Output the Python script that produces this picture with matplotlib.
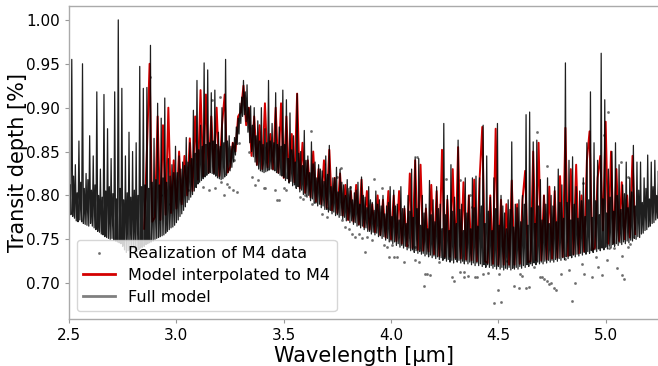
import numpy as np
import matplotlib
matplotlib.use("Agg")
import matplotlib.pyplot as plt

# Full high-resolution model, sampled every 1/240 um from 2.50 to 5.25 um
full_wl = np.linspace(2.50, 5.25, 661)
full_depth = [
    0.782, 0.812, 0.778, 0.955, 0.776, 0.822, 0.774, 0.835, 0.771, 0.803, 0.770, 0.862,  # 2.50
    0.772, 0.815, 0.770, 0.950, 0.768, 0.808, 0.767, 0.825, 0.766, 0.818, 0.765, 0.868,  # 2.55
    0.768, 0.806, 0.765, 0.845, 0.763, 0.812, 0.761, 0.918, 0.759, 0.800, 0.758, 0.830,  # 2.60
    0.756, 0.798, 0.755, 0.915, 0.753, 0.805, 0.752, 0.876, 0.751, 0.810, 0.750, 0.842,  # 2.65
    0.751, 0.802, 0.749, 0.918, 0.748, 0.796, 0.747, 1.000, 0.746, 0.808, 0.745, 0.922,  # 2.70
    0.742, 0.795, 0.738, 0.845, 0.735, 0.803, 0.737, 0.872, 0.738, 0.798, 0.739, 0.850,  # 2.75
    0.740, 0.806, 0.737, 0.860, 0.736, 0.800, 0.738, 0.947, 0.740, 0.810, 0.741, 0.922,  # 2.80
    0.742, 0.812, 0.744, 0.923, 0.745, 0.808, 0.746, 0.971, 0.747, 0.815, 0.748, 0.865,  # 2.85
    0.750, 0.818, 0.751, 0.905, 0.752, 0.812, 0.753, 0.888, 0.754, 0.820, 0.755, 0.911,  # 2.90
    0.757, 0.815, 0.759, 0.842, 0.761, 0.822, 0.763, 0.835, 0.764, 0.826, 0.766, 0.856,  # 2.95
    0.769, 0.826, 0.772, 0.845, 0.776, 0.830, 0.779, 0.838, 0.783, 0.834, 0.787, 0.866,  # 3.00
    0.792, 0.838, 0.795, 0.860, 0.798, 0.842, 0.801, 0.897, 0.805, 0.848, 0.809, 0.931,  # 3.05
    0.813, 0.852, 0.815, 0.880, 0.817, 0.856, 0.819, 0.951, 0.821, 0.858, 0.823, 0.943,  # 3.10
    0.825, 0.860, 0.826, 0.917, 0.825, 0.862, 0.824, 0.920, 0.822, 0.858, 0.820, 0.872,  # 3.15
    0.819, 0.856, 0.818, 0.900, 0.819, 0.860, 0.821, 0.955, 0.823, 0.862, 0.826, 0.868,  # 3.20
    0.828, 0.856, 0.832, 0.860, 0.838, 0.866, 0.846, 0.878, 0.858, 0.888, 0.870, 0.905,  # 3.25
    0.882, 0.912, 0.890, 0.931, 0.892, 0.918, 0.884, 0.926, 0.872, 0.900, 0.860, 0.902,  # 3.30
    0.850, 0.880, 0.844, 0.900, 0.838, 0.868, 0.834, 0.885, 0.830, 0.862, 0.828, 0.900,  # 3.35
    0.827, 0.858, 0.826, 0.876, 0.827, 0.860, 0.828, 0.931, 0.829, 0.862, 0.830, 0.882,  # 3.40
    0.829, 0.860, 0.828, 0.917, 0.826, 0.858, 0.825, 0.878, 0.823, 0.856, 0.822, 0.920,  # 3.45
    0.820, 0.858, 0.817, 0.909, 0.819, 0.842, 0.814, 0.894, 0.816, 0.852, 0.811, 0.868,  # 3.50
    0.812, 0.838, 0.808, 0.916, 0.810, 0.848, 0.804, 0.850, 0.806, 0.834, 0.801, 0.874,  # 3.55
    0.802, 0.840, 0.798, 0.845, 0.800, 0.826, 0.794, 0.861, 0.796, 0.836, 0.791, 0.838,  # 3.60
    0.792, 0.820, 0.788, 0.835, 0.790, 0.830, 0.786, 0.828, 0.788, 0.816, 0.784, 0.845,  # 3.65
    0.784, 0.824, 0.781, 0.857, 0.783, 0.810, 0.779, 0.820, 0.781, 0.820, 0.777, 0.832,  # 3.70
    0.778, 0.804, 0.775, 0.830, 0.777, 0.815, 0.773, 0.812, 0.775, 0.800, 0.771, 0.818,  # 3.75
    0.772, 0.808, 0.769, 0.810, 0.771, 0.795, 0.767, 0.803, 0.769, 0.806, 0.765, 0.815,  # 3.80
    0.766, 0.790, 0.763, 0.821, 0.765, 0.800, 0.761, 0.798, 0.763, 0.786, 0.759, 0.810,  # 3.85
    0.759, 0.795, 0.756, 0.792, 0.758, 0.783, 0.755, 0.805, 0.757, 0.790, 0.753, 0.795,  # 3.90
    0.754, 0.788, 0.751, 0.800, 0.753, 0.779, 0.749, 0.788, 0.751, 0.792, 0.747, 0.810,  # 3.95
    0.748, 0.776, 0.745, 0.806, 0.747, 0.788, 0.743, 0.790, 0.745, 0.772, 0.741, 0.810,  # 4.00
    0.743, 0.785, 0.740, 0.788, 0.742, 0.768, 0.738, 0.800, 0.740, 0.782, 0.737, 0.830,  # 4.05
    0.738, 0.775, 0.735, 0.844, 0.737, 0.785, 0.734, 0.842, 0.736, 0.766, 0.733, 0.800,  # 4.10
    0.734, 0.780, 0.731, 0.790, 0.733, 0.762, 0.730, 0.817, 0.732, 0.778, 0.729, 0.795,  # 4.15
    0.731, 0.770, 0.728, 0.810, 0.730, 0.785, 0.727, 0.790, 0.729, 0.762, 0.726, 0.882,  # 4.20
    0.728, 0.778, 0.725, 0.800, 0.727, 0.760, 0.724, 0.835, 0.726, 0.782, 0.723, 0.798,  # 4.25
    0.727, 0.768, 0.724, 0.863, 0.726, 0.784, 0.723, 0.790, 0.725, 0.760, 0.722, 0.820,  # 4.30
    0.725, 0.780, 0.722, 0.800, 0.724, 0.762, 0.721, 0.820, 0.723, 0.786, 0.720, 0.822,  # 4.35
    0.723, 0.765, 0.720, 0.820, 0.722, 0.788, 0.719, 0.880, 0.721, 0.768, 0.718, 0.845,  # 4.40
    0.721, 0.782, 0.718, 0.798, 0.720, 0.760, 0.717, 0.820, 0.719, 0.785, 0.716, 0.882,  # 4.45
    0.719, 0.766, 0.716, 0.800, 0.718, 0.788, 0.715, 0.780, 0.717, 0.762, 0.716, 0.795,  # 4.50
    0.718, 0.784, 0.715, 0.861, 0.717, 0.764, 0.716, 0.790, 0.718, 0.786, 0.716, 0.795,  # 4.55
    0.719, 0.770, 0.717, 0.800, 0.720, 0.790, 0.718, 0.892, 0.721, 0.766, 0.719, 0.895,  # 4.60
    0.722, 0.786, 0.720, 0.861, 0.723, 0.768, 0.721, 0.863, 0.724, 0.788, 0.722, 0.818,  # 4.65
    0.724, 0.772, 0.722, 0.800, 0.725, 0.790, 0.723, 0.820, 0.726, 0.768, 0.724, 0.800,  # 4.70
    0.726, 0.788, 0.724, 0.810, 0.727, 0.770, 0.725, 0.830, 0.728, 0.792, 0.726, 0.812,  # 4.75
    0.729, 0.774, 0.727, 0.951, 0.730, 0.792, 0.728, 0.840, 0.731, 0.772, 0.729, 0.844,  # 4.80
    0.732, 0.790, 0.730, 0.810, 0.733, 0.774, 0.731, 0.805, 0.734, 0.794, 0.732, 0.820,  # 4.85
    0.735, 0.776, 0.733, 0.860, 0.736, 0.795, 0.734, 0.918, 0.737, 0.775, 0.735, 0.860,  # 4.90
    0.738, 0.794, 0.736, 0.840, 0.739, 0.778, 0.737, 0.962, 0.740, 0.796, 0.738, 0.909,  # 4.95
    0.741, 0.780, 0.739, 0.830, 0.742, 0.798, 0.740, 0.850, 0.744, 0.782, 0.742, 0.860,  # 5.00
    0.745, 0.800, 0.743, 0.835, 0.746, 0.784, 0.744, 0.812, 0.747, 0.802, 0.745, 0.838,  # 5.05
    0.748, 0.786, 0.746, 0.820, 0.749, 0.804, 0.748, 0.857, 0.751, 0.788, 0.750, 0.838,  # 5.10
    0.753, 0.806, 0.752, 0.838, 0.756, 0.792, 0.757, 0.820, 0.760, 0.808, 0.761, 0.846,  # 5.15
    0.764, 0.796, 0.765, 0.838, 0.768, 0.810, 0.769, 0.840, 0.772, 0.800, 0.774, 0.828,  # 5.20
    0.778,
]

# Model binned to M4 resolution, every 0.0125 um
red_wl = np.linspace(2.85, 5.1375, 184)
red_depth = [
    0.762, 0.850, 0.950, 0.770,  # 2.85
    0.775, 0.890, 0.772, 0.880,  # 2.90
    0.778, 0.900, 0.780, 0.840,  # 2.95
    0.785, 0.850, 0.790, 0.845,  # 3.00
    0.800, 0.865, 0.805, 0.890,  # 3.05
    0.818, 0.920, 0.822, 0.915,  # 3.10
    0.826, 0.890, 0.826, 0.900,  # 3.15
    0.822, 0.880, 0.915, 0.826,  # 3.20
    0.832, 0.860, 0.850, 0.890,  # 3.25
    0.895, 0.925, 0.880, 0.900,  # 3.30
    0.845, 0.890, 0.835, 0.880,  # 3.35
    0.830, 0.905, 0.832, 0.870,  # 3.40
    0.830, 0.900, 0.826, 0.905,  # 3.45
    0.820, 0.890, 0.816, 0.870,  # 3.50
    0.815, 0.916, 0.808, 0.860,  # 3.55
    0.803, 0.840, 0.798, 0.850,  # 3.60
    0.793, 0.830, 0.790, 0.840,  # 3.65
    0.786, 0.852, 0.783, 0.820,  # 3.70
    0.780, 0.825, 0.777, 0.812,  # 3.75
    0.772, 0.805, 0.770, 0.812,  # 3.80
    0.767, 0.818, 0.764, 0.805,  # 3.85
    0.761, 0.790, 0.758, 0.800,  # 3.90
    0.755, 0.795, 0.752, 0.805,  # 3.95
    0.750, 0.800, 0.748, 0.805,  # 4.00
    0.745, 0.785, 0.742, 0.825,  # 4.05
    0.740, 0.840, 0.738, 0.835,  # 4.10
    0.737, 0.785, 0.736, 0.812,  # 4.15
    0.733, 0.805, 0.731, 0.852,  # 4.20
    0.730, 0.795, 0.730, 0.830,  # 4.25
    0.729, 0.855, 0.728, 0.815,  # 4.30
    0.727, 0.800, 0.726, 0.818,  # 4.35
    0.725, 0.818, 0.878, 0.725,  # 4.40
    0.723, 0.800, 0.722, 0.876,  # 4.45
    0.721, 0.795, 0.721, 0.790,  # 4.50
    0.721, 0.817, 0.721, 0.790,  # 4.55
    0.722, 0.795, 0.828, 0.724,  # 4.60
    0.725, 0.850, 0.726, 0.860,  # 4.65
    0.726, 0.800, 0.727, 0.810,  # 4.70
    0.728, 0.805, 0.729, 0.822,  # 4.75
    0.730, 0.877, 0.731, 0.830,  # 4.80
    0.733, 0.835, 0.734, 0.800,  # 4.85
    0.736, 0.840, 0.873, 0.738,  # 4.90
    0.740, 0.820, 0.845, 0.760,  # 4.95
    0.884, 0.745, 0.850, 0.746,  # 5.00
    0.830, 0.748, 0.815, 0.750,  # 5.05
    0.800, 0.752, 0.845, 0.756,  # 5.10
]

# Simulated M4 data points (the ones visible outside the model band)
dots_wl = [
    2.878, 2.930, 2.970, 3.056, 3.125, 3.150, 3.165, 3.180, 3.204, 3.210,
    3.220, 3.235, 3.243, 3.266, 3.270, 3.282, 3.290, 3.338, 3.352, 3.360,
    3.367, 3.380, 3.410, 3.414, 3.460, 3.468, 3.476, 3.500, 3.509, 3.578,
    3.592, 3.600, 3.625, 3.633, 3.645, 3.678, 3.690, 3.700, 3.703, 3.748,
    3.765, 3.773, 3.787, 3.804, 3.811, 3.818, 3.830, 3.850, 3.865, 3.880,
    3.888, 3.913, 3.920, 3.960, 3.967, 3.980, 3.990, 4.004, 4.012, 4.028,
    4.059, 4.074, 4.110, 4.113, 4.120, 4.130, 4.152, 4.160, 4.167, 4.180,
    4.222, 4.258, 4.284, 4.292, 4.310, 4.320, 4.323, 4.338, 4.341, 4.360,
    4.370, 4.377, 4.393, 4.400, 4.430, 4.450, 4.478, 4.500, 4.503, 4.511,
    4.540, 4.571, 4.595, 4.600, 4.610, 4.630, 4.643, 4.667, 4.682, 4.696,
    4.705, 4.715, 4.725, 4.727, 4.736, 4.745, 4.758, 4.767, 4.790, 4.810,
    4.830, 4.844, 4.859, 4.892, 4.896, 4.898, 4.938, 4.955, 4.962, 4.985,
    4.993, 5.005, 5.013, 5.017, 5.040, 5.052, 5.070, 5.074, 5.078, 5.084,
    5.103, 5.106, 5.115,
]
dots_depth = [
    0.935, 0.800, 0.790, 0.806, 0.810, 0.806, 0.909, 0.808, 0.912, 0.815,
    0.800, 0.813, 0.810, 0.806, 0.840, 0.804, 0.860, 0.850, 0.821, 0.874,
    0.812, 0.817, 0.808, 0.808, 0.806, 0.795, 0.795, 0.808, 0.806, 0.798,
    0.796, 0.800, 0.873, 0.790, 0.792, 0.779, 0.836, 0.786, 0.775, 0.821,
    0.831, 0.772, 0.764, 0.762, 0.810, 0.756, 0.753, 0.756, 0.752, 0.736,
    0.753, 0.749, 0.819, 0.808, 0.743, 0.741, 0.730, 0.743, 0.730, 0.730,
    0.724, 0.743, 0.741, 0.726, 0.844, 0.724, 0.697, 0.710, 0.711, 0.709,
    0.724, 0.819, 0.707, 0.702, 0.800, 0.817, 0.713, 0.707, 0.713, 0.708,
    0.800, 0.787, 0.707, 0.707, 0.710, 0.712, 0.677, 0.692, 0.711, 0.679,
    0.725, 0.697, 0.694, 0.710, 0.708, 0.694, 0.696, 0.718, 0.872, 0.707,
    0.707, 0.705, 0.834, 0.703, 0.699, 0.700, 0.694, 0.692, 0.710, 0.727,
    0.715, 0.680, 0.700, 0.722, 0.814, 0.711, 0.707, 0.730, 0.718, 0.709,
    0.869, 0.726, 0.895, 0.740, 0.740, 0.717, 0.838, 0.731, 0.709, 0.705,
    0.741, 0.821, 0.745,
]

fig = plt.figure(figsize=(6.58, 3.66), dpi=100)
ax = fig.add_axes([0.105, 0.128, 0.897, 0.856])

ax.plot(dots_wl, dots_depth, ".", color="#666666", ms=2.2, alpha=0.8,
        label="Realization of M4 data")
ax.plot(red_wl, red_depth, color="#d40000", lw=1.4,
        label="Model interpolated to M4")
ax.plot(full_wl, full_depth, color="k", lw=0.9, alpha=0.88, label="Full model")

ax.set_xlim(2.5, 5.25)
ax.set_ylim(0.659, 1.016)
ax.set_xticks([2.5, 3.0, 3.5, 4.0, 4.5, 5.0])
ax.set_yticks([0.70, 0.75, 0.80, 0.85, 0.90, 0.95, 1.00])
ax.set_xticklabels(["2.5", "3.0", "3.5", "4.0", "4.5", "5.0"])
ax.set_yticklabels(["0.70", "0.75", "0.80", "0.85", "0.90", "0.95", "1.00"])
ax.tick_params(labelsize=11, length=3, width=0.8, color="#999999")
for s in ax.spines.values():
    s.set_color("#aaaaaa")
    s.set_linewidth(1.0)

ax.set_xlabel("Wavelength [µm]", fontsize=15, labelpad=2)
ax.set_ylabel("Transit depth [%]", fontsize=15)
ax.yaxis.set_label_coords(-0.07, 0.5)

leg = ax.legend(loc="lower left", fontsize=11.5, framealpha=0.8,
                edgecolor="#cccccc", handlelength=2.0, labelspacing=0.42)
for h in leg.legend_handles:
    if hasattr(h, "set_linewidth"):
        h.set_linewidth(2.0)
leg.legend_handles[2].set_alpha(0.5)

fig.savefig("out.png", dpi=100)
